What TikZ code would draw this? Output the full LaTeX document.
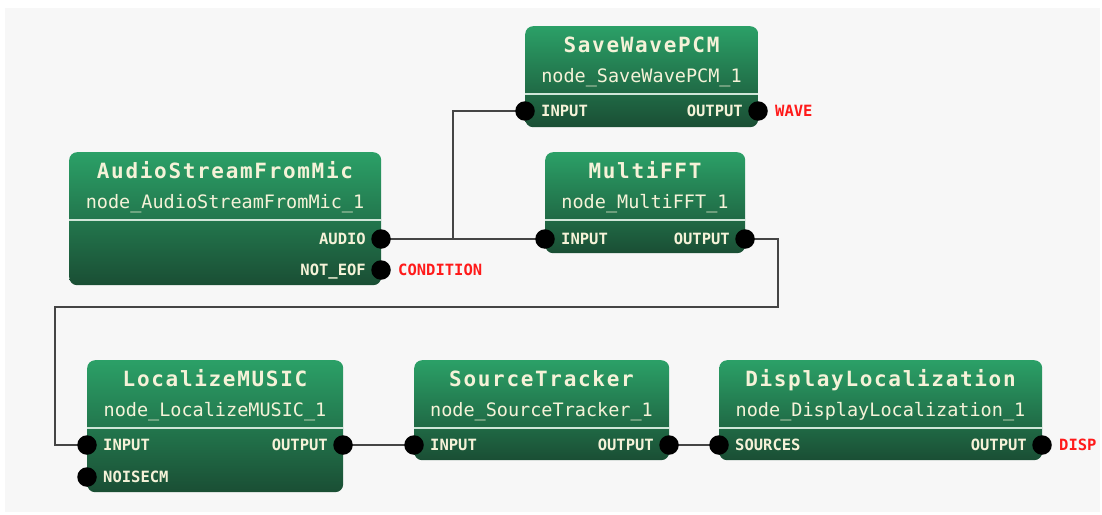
\documentclass[tikz,border=0pt]{standalone}
\usepackage{fontspec}
\newfontfamily\titlefont[LetterSpace=8]{DejaVu Sans Mono}
\newfontfamily\monofont{DejaVu Sans Mono}
\definecolor{bgc}{HTML}{F7F7F7}
\definecolor{gtop}{HTML}{2BA067}
\definecolor{gbot}{HTML}{1A4E34}
\definecolor{txtc}{HTML}{F5F2D8}
\definecolor{sepc}{HTML}{CFE6D8}
\definecolor{wirec}{HTML}{454545}
\definecolor{labc}{HTML}{FF1A1A}
\pgfdeclarelayer{bg}
\pgfdeclarelayer{wires}
\pgfsetlayers{bg,wires,main}
\tikzset{
  blockbox/.style={draw=none, rounded corners=8pt, top color=gtop, bottom color=gbot, inner sep=0pt, anchor=north west},
  sepline/.style={draw=sepc, line width=1.4pt},
  titletxt/.style={font=\titlefont\bfseries\fontsize{21}{24}\selectfont, text=txtc, inner sep=0pt, anchor=base},
  subtxt/.style={font=\monofont\fontsize{18.5}{22}\selectfont, text=txtc, inner sep=0pt, anchor=base},
  porttxt/.style={font=\monofont\bfseries\fontsize{15.5}{18}\selectfont, text=txtc, inner sep=0pt},
  outtxt/.style={font=\monofont\bfseries\fontsize{15.5}{18}\selectfont, text=labc, inner sep=0pt, anchor=base west},
  port/.style={circle, fill=black, minimum size=19.5pt, inner sep=0pt},
  wire/.style={draw=wirec, line width=1.8pt}
}
\newcommand{\hblk}[7]{%
  \node[blockbox, minimum width={(#3-#2)*1pt}, minimum height={#5*1pt}] (#1) at (#2,#4) {};
  \draw[sepline] (#2,#4+68) -- (#3,#4+68);
  \node[titletxt] (#1-title) at ({(#2+#3)/2},#4+26) {#6};
  \node[subtxt] (#1-sub) at ({(#2+#3)/2},#4+56) {#7};
}
\newcommand{\pinL}[4]{%
  \node[port] (#1) at (#2,#3) {};
  \node[porttxt, anchor=base west] (#1-lab) at (#2+16,#3+5.5) {#4};
}
\newcommand{\pinR}[4]{%
  \node[port] (#1) at (#2,#3) {};
  \node[porttxt, anchor=base east] (#1-lab) at (#2-15,#3+5.5) {#4};
}
\newcommand{\outlab}[4]{%
  \node[outtxt] (#1) at (#2+17,#3+5.5) {#4};
}
\begin{document}
\begin{tikzpicture}[x=1pt,y=-1pt]
\useasboundingbox (0,0) rectangle (1102,514);
\begin{pgfonlayer}{bg}
  \fill[bgc] (5,8) rectangle (1100,512);
\end{pgfonlayer}

% blocks
\hblk{swp}{525}{758}{26}{101}{SaveWavePCM}{node\_SaveWavePCM\_1}
\hblk{asfm}{69}{381}{152}{133}{AudioStreamFromMic}{node\_AudioStreamFromMic\_1}
\hblk{fft}{545}{745}{152}{101}{MultiFFT}{node\_MultiFFT\_1}
\hblk{lm}{87}{343}{360}{132}{LocalizeMUSIC}{node\_LocalizeMUSIC\_1}
\hblk{st}{414}{669}{360}{100}{SourceTracker}{node\_SourceTracker\_1}
\hblk{dl}{719}{1042}{360}{100}{DisplayLocalization}{node\_DisplayLocalization\_1}

% ports
\pinL{swp-in}{525}{111}{INPUT}
\pinR{swp-out}{758}{111}{OUTPUT}
\outlab{swp-lab}{758}{111}{WAVE}

\pinR{asfm-audio}{381}{239}{AUDIO}
\pinR{asfm-eof}{381}{270}{NOT\_EOF}
\outlab{asfm-lab}{381}{270}{CONDITION}

\pinL{fft-in}{545}{239}{INPUT}
\pinR{fft-out}{745}{239}{OUTPUT}

\pinL{lm-in}{87}{445}{INPUT}
\pinL{lm-noise}{87}{477}{NOISECM}
\pinR{lm-out}{343}{445}{OUTPUT}

\pinL{st-in}{414}{445}{INPUT}
\pinR{st-out}{669}{445}{OUTPUT}

\pinL{dl-in}{719}{445}{SOURCES}
\pinR{dl-out}{1042}{445}{OUTPUT}
\outlab{dl-lab}{1042}{445}{DISP}

% wires
\begin{pgfonlayer}{wires}
  \draw[wire] (asfm-audio.center) -- (fft-in.center);
  \draw[wire] (asfm-audio.center) -- ++(72,0) |- (swp-in.center);
  \draw[wire] (fft-out.center) -| (778,307) -- (55,307) |- (lm-in.center);
  \draw[wire] (lm-out.center) -- (st-in.center);
  \draw[wire] (st-out.center) -- (dl-in.center);
\end{pgfonlayer}
\end{tikzpicture}
\end{document}
